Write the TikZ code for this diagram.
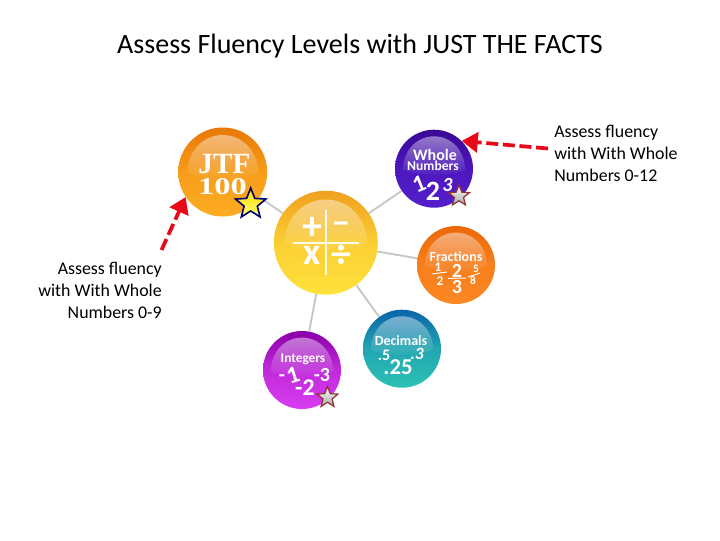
\documentclass[tikz,border=0pt]{standalone}
\usepackage{fontspec}
\setmainfont{Carlito}
\newfontfamily\serifb{Liberation Serif}[BoldFont={Liberation Serif Bold}]
\usetikzlibrary{arrows.meta,backgrounds,fadings,shapes.geometric}
\definecolor{jtfT}{RGB}{232,120,8}\definecolor{jtfB}{RGB}{253,172,34}
\definecolor{calT}{RGB}{240,160,30}\definecolor{calB}{RGB}{255,226,60}
\definecolor{whoT}{RGB}{58,8,150}\definecolor{whoB}{RGB}{84,30,205}
\definecolor{fraT}{RGB}{236,104,8}\definecolor{fraB}{RGB}{252,136,36}
\definecolor{decT}{RGB}{10,100,170}\definecolor{decB}{RGB}{44,194,180}
\definecolor{intT}{RGB}{138,0,170}\definecolor{intB}{RGB}{216,60,240}
\definecolor{arrowred}{RGB}{232,8,24}
\newcommand{\glossball}[6]{%
  \node[circle,inner sep=0pt,minimum size=#4*1.5pt,top color=#5,bottom color=#6,middle color=#6!70!#5,shading angle=0] (#1) at (#2,#3) {};
  \fill[white,opacity=.45,path fading=south]
    (#2-#4*.80,#3+#4*.02) .. controls (#2-#4*.78,#3-#4*.50) and (#2-#4*.42,#3-#4*.83) .. (#2,#3-#4*.83)
    .. controls (#2+#4*.42,#3-#4*.83) and (#2+#4*.78,#3-#4*.50) .. (#2+#4*.80,#3+#4*.02)
    .. controls (#2+#4*.40,#3+#4*.22) and (#2-#4*.40,#3+#4*.22) .. cycle;
}
\tikzset{
  link/.style={draw=black!22,line width=1.4pt},
  redarrow/.style={draw=arrowred,line width=2.8pt,dash pattern=on 9pt off 3.5pt,-{Triangle[length=12pt,width=15pt,fill=arrowred]}},
  caption/.style={font=\fontsize{13.4}{16.4}\selectfont,inner sep=0pt},
  balltext/.style={text=white,inner sep=0pt,font=\bfseries},
  goldstar/.style={star,star points=5,star point ratio=2.3,inner sep=0pt,minimum size=32*.75pt,draw=blue!45!black,line width=1.2pt,top color=yellow!70!orange,bottom color=yellow!55!white},
  greystar/.style={star,star points=5,star point ratio=2.3,inner sep=0pt,minimum size=22*.75pt,draw=red!45!black!80,line width=.9pt,top color=white,bottom color=black!35},
  fracline/.style={draw=white,line width=.7pt},
}
\begin{document}
\begin{tikzpicture}[x=.75pt,y=-.75pt]
\useasboundingbox (0,0) rectangle (720,540);
\node[inner sep=0pt,font=\fontsize{21}{21}\selectfont] (title) at (360,46) {Assess Fluency Levels with JUST THE FACTS};

\glossball{jtf}{222.7}{172}{44.5}{jtfT}{jtfB}
\glossball{calc}{325.8}{242.7}{52}{calT}{calB}
\glossball{whole}{434}{168.7}{39}{whoT}{whoB}
\glossball{frac}{456}{265}{39}{fraT}{fraB}
\glossball{dec}{402}{348.7}{39}{decT}{decB}
\glossball{int}{302}{370}{39}{intT}{intB}

\begin{scope}[on background layer]
  \fill[white] (0,0) rectangle (720,540);
  \draw[link] (calc) -- (jtf);
  \draw[link] (calc) -- (whole);
  \draw[link] (calc) -- (frac);
  \draw[link] (calc) -- (dec);
  \draw[link] (calc) -- (int);
\end{scope}

% JTF
\node[balltext,font=\serifb\bfseries\fontsize{22}{22}\selectfont] (jtfa) at (224.5,164) {JTF};
\node[balltext,font=\serifb\bfseries\fontsize{18}{18}\selectfont,xscale=1.35] (jtfb) at (222.5,187) {100};
\node[goldstar] (jtfstar) at (250.7,204) {};

% centre
\coordinate (vt) at (326,210); \coordinate (vb) at (326,275);
\coordinate (hl) at (293,243); \coordinate (hr) at (359,243);
\draw[white,line width=.9pt,opacity=.9] (vt) -- (vb);
\draw[white,line width=.9pt,opacity=.9] (hl) -- (hr);
\node[balltext,font=\bfseries\fontsize{30}{30}\selectfont] (plus) at (312,228) {+};
\node[balltext,font=\bfseries\fontsize{26}{26}\selectfont] (minus) at (341,228) {−};
\node[balltext,font=\bfseries\fontsize{28}{28}\selectfont] (times) at (312,255) {x};
\node[balltext,font=\bfseries\fontsize{30}{30}\selectfont] (divide) at (341,256) {÷};

% whole numbers
\node[balltext,font=\bfseries\fontsize{12}{12}\selectfont] (w1) at (435,155) {Whole};
\node[balltext,font=\bfseries\fontsize{10.2}{10.2}\selectfont] (w2) at (433,166) {Numbers};
\node[balltext,font=\bfseries\fontsize{18}{18}\selectfont,rotate=22] (w3) at (419,184) {1};
\node[balltext,font=\bfseries\fontsize{21}{21}\selectfont] (w4) at (433,191) {2};
\node[balltext,font=\bfseries\itshape\fontsize{15}{15}\selectfont] (w5) at (447.5,185) {3};
\node[greystar] (wstar) at (459,196) {};

% fractions
\node[balltext,font=\bfseries\fontsize{10.5}{10.5}\selectfont] (f0) at (456,257) {Fractions};
\node[balltext,font=\bfseries\fontsize{10}{10}\selectfont] (f1) at (438,267.5) {1};
\node[balltext,font=\bfseries\fontsize{10}{10}\selectfont] (f2) at (440,281) {2};
\coordinate (fl1) at (432,274); \coordinate (fl2) at (447,272);
\draw[fracline] (fl1) -- (fl2);
\node[balltext,font=\bfseries\fontsize{15}{15}\selectfont] (f3) at (457,271) {2};
\node[balltext,font=\bfseries\fontsize{15}{15}\selectfont] (f4) at (457,287) {3};
\coordinate (fl3) at (448,278.5); \coordinate (fl4) at (466,278);
\draw[fracline] (fl3) -- (fl4);
\node[balltext,font=\bfseries\fontsize{8.5}{8.5}\selectfont] (f5) at (476,269) {5};
\node[balltext,font=\bfseries\fontsize{8.5}{8.5}\selectfont] (f6) at (473,281) {8};
\coordinate (fl5) at (468,277); \coordinate (fl6) at (480,273);
\draw[fracline] (fl5) -- (fl6);

% decimals
\node[balltext,font=\bfseries\fontsize{10.5}{10.5}\selectfont] (d0) at (401,341) {Decimals};
\node[balltext,font=\bfseries\fontsize{12}{12}\selectfont] (d1) at (384,355) {.5};
\node[balltext,font=\bfseries\itshape\fontsize{13}{13}\selectfont] (d2) at (417,354) {.3};
\node[balltext,font=\bfseries\fontsize{17}{17}\selectfont] (d3) at (398,367) {.25};

% integers
\node[balltext,font=\bfseries\fontsize{10}{10}\selectfont] (i0) at (303,359) {Integers};
\node[balltext,font=\bfseries\fontsize{15}{15}\selectfont] (i1) at (282,378) {-};
\node[balltext,font=\bfseries\fontsize{18}{18}\selectfont,rotate=18] (i2) at (293,375) {1};
\node[balltext,font=\bfseries\fontsize{18}{18}\selectfont] (i3) at (305,388) {-2};
\node[balltext,font=\bfseries\fontsize{15}{15}\selectfont] (i4) at (322,375) {-3};
\node[greystar] (istar) at (327.5,397.5) {};

% captions
\node[caption,align=left,anchor=north west] (capr) at (554,125) {Assess fluency\\with With Whole\\Numbers 0-12};
\node[caption,align=right,anchor=north east] (capl) at (162,262) {Assess fluency\\with With Whole\\Numbers 0-9};
\coordinate (tailr) at (548,148.5);
\coordinate (taill) at (161.5,250);
\draw[redarrow] (tailr) -- (whole.45.7);
\draw[redarrow] (taill) -- (jtf.214);
\end{tikzpicture}
\end{document}
